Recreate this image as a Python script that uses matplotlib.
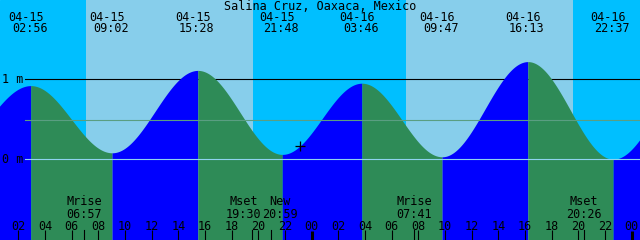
import numpy as np
import matplotlib
matplotlib.use("Agg")
import matplotlib.pyplot as plt
import matplotlib.transforms as mtransforms

# hours counted from 04-15 00:00
title = "Salina Cruz, Oaxaca, Mexico"
view_start = 0.63
view_hours = 48

# tide extremes labelled on the chart
tide_dates = ["04-15", "04-15", "04-15", "04-15", "04-16", "04-16", "04-16", "04-16"]
tide_times = ["02:56", "09:02", "15:28", "21:48", "03:46", "09:47", "16:13", "22:37"]
tide_hours = [2.933, 9.033, 15.467, 21.8, 27.767, 33.783, 40.217, 46.617]
tide_heights = [0.92, 0.08, 1.11, 0.06, 0.95, 0.03, 1.22, 0.0]
# extremes just outside the window (needed for the curve at the edges)
prev_extreme = (-3.3, 0.09)
next_extreme = (53.0, 1.10)

sunrise_hours = [7.08, 31.08]
sunset_hours = [19.61, 43.61]

moon_names = ["Mrise", "Mset", "New", "Mrise", "Mset"]
moon_times = ["06:57", "19:30", "20:59", "07:41", "20:26"]
moon_hours = [6.95, 19.5, 20.983, 31.683, 44.433]

mean_level = 0.49
now_hour = 23.1
now_height = 0.17

day_color = "#87ceeb"
night_color = "#00bfff"
rise_color = "#0000ff"
fall_color = "#2e8b57"

W, H = 640, 240
fig = plt.figure(figsize=(W / 100, H / 100), dpi=100)
ax = fig.add_axes([0, 0, 1, 1])
ax.set_xlim(view_start, view_start + view_hours)
ax.set_ylim(-1.01, 1.99)
ax.axis("off")

font = dict(family="DejaVu Sans Mono", fontsize=8.5, color="black")

# day / night background
ax.axvspan(view_start, view_start + view_hours, color=night_color, zorder=0)
for sr, ss in zip(sunrise_hours, sunset_hours):
    ax.axvspan(sr, ss, color=day_color, lw=0, zorder=1)

# reference lines
x_line = view_start + 25 / W * view_hours
x_end = view_start + view_hours
ax.plot([x_line, x_end], [1, 1], color="black", lw=0.8, zorder=2)

# tide curve, half-cosine between successive extremes
ext_t = [prev_extreme[0]] + tide_hours + [next_extreme[0]]
ext_h = [prev_extreme[1]] + tide_heights + [next_extreme[1]]
for i in range(len(ext_t) - 1):
    t0, t1 = ext_t[i], ext_t[i + 1]
    h0, h1 = ext_h[i], ext_h[i + 1]
    t = np.linspace(t0, t1, 200)
    h = h0 + (h1 - h0) * (1 - np.cos(np.pi * (t - t0) / (t1 - t0))) / 2
    c = rise_color if h1 > h0 else fall_color
    ax.fill_between(t, -1.01, h, color=c, lw=0, zorder=3)

ax.plot([x_line, x_end], [mean_level, mean_level], color="#5a9e82", lw=0.8, zorder=4)
ax.plot([x_line, x_end], [0, 0], color="#8fd3ef", lw=0.8, zorder=4)
ax.plot(now_hour, now_height, marker="+", color="black", ms=7, mew=0.9, zorder=5)

# left labels
lbl = mtransforms.blended_transform_factory(ax.transAxes, ax.transData)
ax.text(2 / W, 1, "1 m", transform=lbl, ha="left", va="center", **font)
ax.text(2 / W, 0, "0 m", transform=lbl, ha="left", va="center", **font)

# title and extreme labels
ax.text(0.5, 1 - 6 / H, title, transform=ax.transAxes, ha="center", va="center", **font)
top = mtransforms.blended_transform_factory(ax.transData, ax.transAxes)
for d, tm, hr in zip(tide_dates, tide_times, tide_hours):
    ax.annotate(d, (hr, 1 - 17.5 / H), xycoords=top, xytext=(-5, 0),
                textcoords="offset pixels", ha="center", va="center", **font)
    ax.annotate(tm, (hr, 1 - 29 / H), xycoords=top, xytext=(-1, 0),
                textcoords="offset pixels", ha="center", va="center", **font)

# hour ticks along the bottom
for hr in range(2, 49, 2):
    lw = 2.2 if hr % 24 == 0 else 0.8
    y1 = 9 / H if hr % 24 == 0 else 10 / H
    ax.plot([hr, hr], [0, y1], transform=top, color="black", lw=lw, zorder=6,
            solid_capstyle="butt")
    ax.text(hr, 1 - 226 / H, "%02d" % (hr % 24), transform=top,
            ha="center", va="center", zorder=7, **font)

# moon events
nudge = {1: -8, 2: 9}
for i, (name, tm, hr) in enumerate(zip(moon_names, moon_times, moon_hours)):
    ax.plot([hr, hr], [0, 10 / H], transform=top, color="black", lw=0.8, zorder=6)
    dx = nudge.get(i, 0)
    ax.annotate(name + "\n" + tm, (hr, 1 - 208 / H), xycoords=top, xytext=(dx, 0),
                textcoords="offset pixels", ha="center", va="center",
                multialignment="center", linespacing=0.95, **font)

fig.savefig("out.png", dpi=100)
